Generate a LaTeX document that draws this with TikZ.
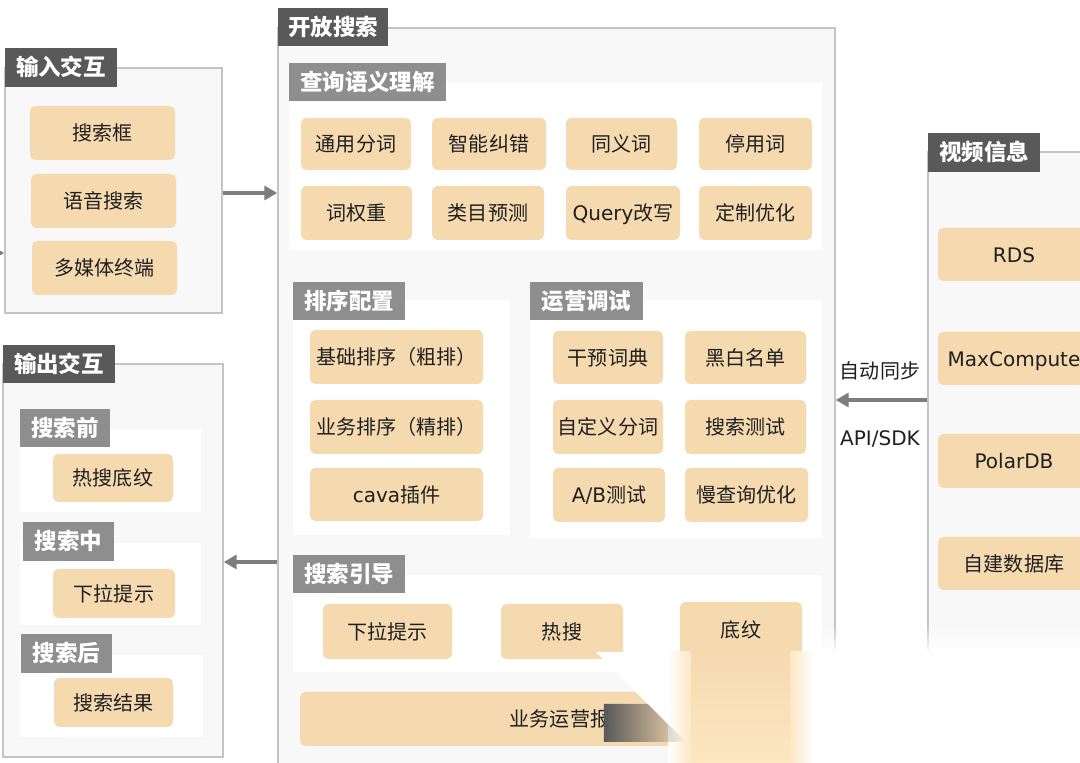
\documentclass[tikz,border=0pt]{standalone}
\usepackage{fontspec}
\setmainfont{Noto Sans CJK SC}
\newfontfamily\latin{DejaVu Sans}
\usetikzlibrary{arrows.meta,positioning,fit,fadings}
\definecolor{grayDark}{RGB}{89,89,89}
\definecolor{grayTag}{RGB}{142,142,142}
\definecolor{frameFill}{RGB}{248,248,248}
\definecolor{frameLine}{RGB}{196,196,196}
\definecolor{cellFill}{RGB}{245,218,176}
\definecolor{arrowGray}{RGB}{125,125,125}
\definecolor{fadeCream}{RGB}{252,231,194}
\newcommand\cellfont{\fontsize{11.4}{13}\selectfont}
\newcommand\tagfont{\fontsize{12.8}{15}\selectfont\bfseries}
\tikzset{
  outerbox/.style={rectangle, draw=frameLine, line width=0.8pt, fill=frameFill, inner sep=0pt},
  whitepanel/.style={rectangle, fill=white, inner sep=0pt},
  sz/.style 2 args={minimum width=#1*0.02cm, minimum height=#2*0.02cm},
  darktag/.style={rectangle, fill=grayDark, text=white, inner sep=0pt, font=\tagfont,
                  text height=11.2pt, text depth=1.6pt},
  graytag/.style={darktag, fill=grayTag},
  cell/.style={rectangle, fill=cellFill, rounded corners=3pt, inner sep=0pt,
               text=black!88, font=\cellfont, text height=10pt, text depth=1.4pt},
  note/.style={inner sep=0pt, text=black!88, font=\cellfont, text height=10pt, text depth=1.4pt},
  link/.style={-{Triangle[length=2.6mm,width=2.8mm]}, line width=2pt, arrowGray},
}

\begin{document}
\begin{tikzpicture}[x=0.02cm, y=-0.02cm]
  \useasboundingbox (0,0) rectangle (1080,763);
  \clip (0,0) rectangle (1080,763);

  % input side
  \node[outerbox, fit={(5,68)(222,313)}] (inFrame) {};
  \node[darktag, sz={112}{39}] (inHead) at (61,67.5) {输入交互};
  \node[cell, sz={145}{54}] (kuang) at (102.5,133) {搜索框};
  \node[cell, sz={145}{54}] (yuyin) at (103.5,201) {语音搜索};
  \node[cell, sz={145}{54}] (duomeiti) at (104.5,268) {多媒体终端};

  % output side
  \node[outerbox, fit={(3,364)(223,757)}] (outFrame) {};
  \node[darktag, sz={112}{38}] (outHead) at (59,364) {输出交互};
  \node[whitepanel, fit={(20,429)(201,512)}] (qianPanel) {};
  \node[graytag, sz={90}{38}] (qianTag) at (65,428) {搜索前};
  \node[cell, sz={120}{48}] (resou1) at (113,478) {热搜底纹};
  \node[whitepanel, fit={(20,543)(201,625)}] (zhongPanel) {};
  \node[graytag, sz={91}{39}] (zhongTag) at (68.5,541.5) {搜索中};
  \node[cell, sz={122}{49}] (xiala1) at (114,593.5) {下拉提示};
  \node[whitepanel, fit={(20,655)(203,737)}] (houPanel) {};
  \node[graytag, sz={91}{39}] (houTag) at (66.5,653.5) {搜索后};
  \node[cell, sz={119}{49}] (jieguo) at (113.5,702.5) {搜索结果};

  % open search
  \node[outerbox, fit={(278,28)(835,790)}] (osFrame) {};
  \node[darktag, sz={110}{38}] (osHead) at (333,27) {开放搜索};

  \node[whitepanel, fit={(289,83)(822,250)}] (qPanel) {};
  \node[graytag, sz={157}{38}] (qTag) at (367.5,82) {查询语义理解};
  \node[cell, sz={110}{52}] (fenci) at (356,144) {通用分词};
  \node[cell, sz={114}{52}] (jiucuo) at (489,144) {智能纠错};
  \node[cell, sz={111}{52}] (tongyi) at (621.5,144) {同义词};
  \node[cell, sz={113}{52}] (tingyong) at (755.5,144) {停用词};
  \node[cell, sz={111}{54}] (quanzhong) at (356.5,213) {词权重};
  \node[cell, sz={112}{54}] (leimu) at (488,213) {类目预测};
  \node[cell, sz={114}{54}] (gaixie) at (623,213) {{\latin Query}改写};
  \node[cell, sz={113}{54}] (dingzhi) at (755.5,213) {定制优化};

  \node[whitepanel, fit={(293,300)(510,535)}] (sPanel) {};
  \node[graytag, sz={112}{38}] (sTag) at (349,301) {排序配置};
  \node[cell, sz={173}{54}] (cupai) at (396.5,357) {基础排序（粗排）};
  \node[cell, sz={173}{54}] (jingpai) at (396.5,427) {业务排序（精排）};
  \node[cell, sz={173}{53}] (cava) at (396.5,494.5) {{\latin cava}插件};

  \node[whitepanel, fit={(530,300)(822,538)}] (yPanel) {};
  \node[graytag, sz={113}{38}] (yTag) at (586.5,301) {运营调试};
  \node[cell, sz={110}{53}] (ganyu) at (608,357.5) {干预词典};
  \node[cell, sz={121}{53}] (heibai) at (745.5,357.5) {黑白名单};
  \node[cell, sz={110}{54}] (zidingyi) at (608,427) {自定义分词};
  \node[cell, sz={121}{54}] (ceshi) at (745.5,427) {搜索测试};
  \node[cell, sz={112}{54}] (abtest) at (609,495) {{\latin A/B}测试};
  \node[cell, sz={123}{54}] (manchaxun) at (746.5,495) {慢查询优化};

  \node[whitepanel, fit={(293,575)(822,672)}] (gPanel) {};
  \node[graytag, sz={112}{38}] (gTag) at (349,574) {搜索引导};
  \node[cell, sz={129}{55}] (xiala2) at (387.5,631.5) {下拉提示};
  \node[cell, sz={122}{55}] (resou2) at (562,631.5) {热搜};
  \node[cell, sz={122}{56}] (diwen) at (741,630) {底纹};
  \node[cell, sz={520}{54}] (baobiao) at (560,719) {业务运营报};

  % video info
  \node[outerbox, fit={(928,152)(1100,790)}] (viFrame) {};
  \node[darktag, sz={112}{39}] (viHead) at (984,152.5) {视频信息};
  \node[cell, sz={152}{53}] (rds) at (1014,254.5) {\latin RDS};
  \node[cell, sz={152}{53}] (maxc) at (1014,358.5) {\latin MaxCompute};
  \node[cell, sz={152}{54}] (polar) at (1014,461) {\latin PolarDB};
  \node[cell, sz={152}{53}] (zijian) at (1014,563.5) {自建数据库};

  % connectors
  \coordinate (leftIn) at (-20,253);
  \coordinate (inY) at (0,193);
  \coordinate (outY) at (0,562);
  \coordinate (syncY) at (0,400);
  \draw[link] (leftIn) -- (inFrame.west |- leftIn);
  \draw[link] (inFrame.east |- inY) -- (osFrame.west |- inY);
  \draw[link] (osFrame.west |- outY) -- (outFrame.east |- outY);
  \draw[link] (viFrame.west |- syncY) -- (osFrame.east |- syncY);
  \node[note] (tongbu) at (880,371) {自动同步};
  \node[note] (apisdk) at (880,438) {\latin API/SDK};

  % faded overlay in the corner
  \fill[white, path fading=north] (808,626) rectangle (1080,652);
  \fill[white] (596,652) -- (1080,650) -- (1080,763) -- (706,763) -- cycle;
  \shade[left color=white, right color=fadeCream] (668,652) rectangle (692,763);
  \shade[top color=cellFill, bottom color=fadeCream] (691,652) rectangle (791,763);
  \shade[left color=fadeCream, right color=white] (790,652) rectangle (814,763);
  \fill[black!65, path fading=east] (604,704) -- (648,704) -- (686,742) -- (604,742) -- cycle;
\end{tikzpicture}
\end{document}
